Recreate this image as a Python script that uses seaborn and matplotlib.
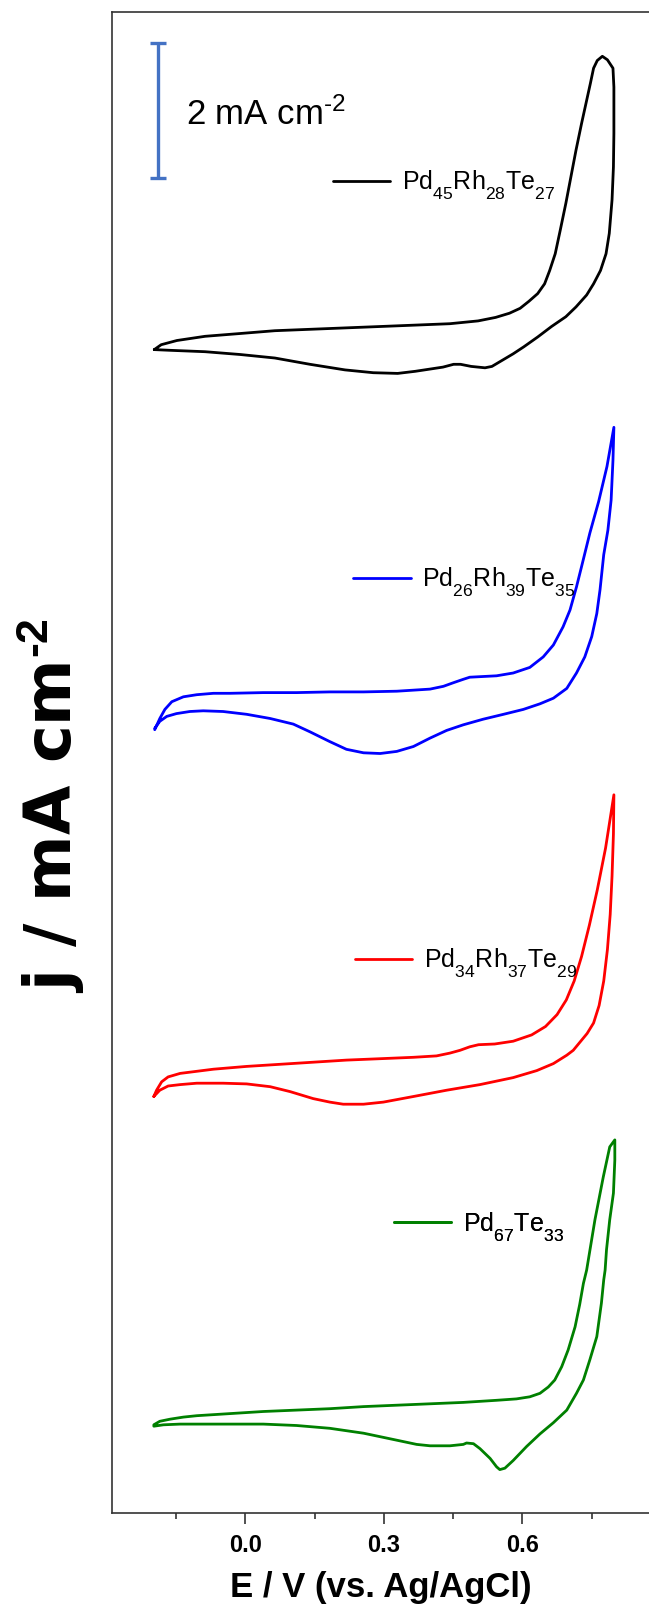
import numpy as np
import pandas as pd
import matplotlib
matplotlib.use("Agg")
import matplotlib.pyplot as plt
import seaborn as sns
from matplotlib.ticker import MultipleLocator

# =========================
# 1. Data (E in V, j in mA cm-2, curves stacked)
# =========================
labels = ["Pd$_{45}$Rh$_{28}$Te$_{27}$", "Pd$_{26}$Rh$_{39}$Te$_{35}$",
          "Pd$_{34}$Rh$_{37}$Te$_{29}$", "Pd$_{67}$Te$_{33}$"]
colors = ["black", "#0000ff", "#ff0000", "#008000"]

# Pd45Rh28Te27 (black)
E_black = [-0.197, -0.182, -0.148, -0.087, -0.011, 0.064, 0.140, 0.216, 0.292, 0.368,
           0.443, 0.504, 0.542, 0.572, 0.595, 0.614, 0.633, 0.648, 0.659, 0.671,
           0.682, 0.694, 0.705, 0.716, 0.728, 0.739, 0.747, 0.754, 0.762, 0.773,
           0.784, 0.796, 0.798,
           0.798, 0.797, 0.794, 0.788, 0.781, 0.769, 0.754, 0.739, 0.716, 0.694,
           0.663, 0.633, 0.603, 0.580, 0.557, 0.534, 0.519, 0.489, 0.466, 0.451,
           0.428, 0.398, 0.368, 0.330, 0.277, 0.216, 0.140, 0.064, -0.011, -0.087,
           -0.163, -0.197]
j_black = [16.62, 16.69, 16.75, 16.81, 16.85, 16.89, 16.91, 16.93, 16.95, 16.97,
           16.99, 17.03, 17.08, 17.14, 17.21, 17.31, 17.42, 17.56, 17.75, 17.99,
           18.33, 18.71, 19.09, 19.47, 19.85, 20.18, 20.42, 20.64, 20.75, 20.81,
           20.76, 20.64, 20.37,
           19.71, 19.23, 18.76, 18.28, 17.99, 17.75, 17.56, 17.40, 17.23, 17.09,
           16.95, 16.80, 16.66, 16.56, 16.47, 16.38, 16.36, 16.38, 16.41, 16.41,
           16.37, 16.34, 16.31, 16.28, 16.29, 16.33, 16.41, 16.50, 16.55, 16.59,
           16.61, 16.62]

# Pd26Rh39Te35 (blue)
E_blue = [-0.196, -0.185, -0.174, -0.159, -0.134, -0.105, -0.069, -0.033, 0.039, 0.111,
          0.183, 0.256, 0.328, 0.400, 0.429, 0.450, 0.472, 0.486, 0.515, 0.544,
          0.580, 0.616, 0.645, 0.667, 0.688, 0.703, 0.717, 0.728, 0.746, 0.765,
          0.783, 0.798,
          0.796, 0.792, 0.785, 0.776, 0.768, 0.761, 0.750, 0.735, 0.717, 0.696,
          0.667, 0.638, 0.602, 0.559, 0.515, 0.472, 0.436, 0.400, 0.364, 0.328,
          0.292, 0.256, 0.219, 0.183, 0.140, 0.104, 0.054, 0.003, -0.048, -0.091,
          -0.120, -0.149, -0.170, -0.185, -0.196]
j_blue = [11.19, 11.35, 11.48, 11.59, 11.66, 11.69, 11.71, 11.71, 11.72, 11.72,
          11.73, 11.73, 11.74, 11.77, 11.81, 11.86, 11.91, 11.94, 11.95, 11.96,
          12.00, 12.08, 12.23, 12.40, 12.66, 12.90, 13.23, 13.52, 14.00, 14.45,
          14.95, 15.51,
          15.04, 14.47, 14.04, 13.69, 13.19, 12.85, 12.52, 12.23, 12.00, 11.78,
          11.64, 11.56, 11.48, 11.41, 11.34, 11.26, 11.18, 11.07, 10.95, 10.88,
          10.85, 10.86, 10.91, 11.02, 11.16, 11.27, 11.35, 11.41, 11.45, 11.46,
          11.45, 11.42, 11.38, 11.31, 11.21]

# Pd34Rh37Te29 (red)
E_red = [-0.198, -0.192, -0.181, -0.167, -0.141, -0.105, -0.069, 0.003, 0.075, 0.147,
         0.219, 0.292, 0.364, 0.414, 0.443, 0.465, 0.486, 0.505, 0.540, 0.580,
         0.620, 0.650, 0.675, 0.695, 0.712, 0.728, 0.745, 0.762, 0.780, 0.798,
         0.797, 0.794, 0.790, 0.784, 0.776, 0.766, 0.754, 0.740, 0.725, 0.710,
         0.696, 0.667, 0.631, 0.580, 0.508, 0.436, 0.364, 0.299, 0.256, 0.212,
         0.183, 0.147, 0.097, 0.054, 0.003, -0.048, -0.105, -0.141, -0.167, -0.185,
         -0.198]
j_red = [5.95, 6.04, 6.16, 6.23, 6.28, 6.31, 6.34, 6.38, 6.41, 6.44,
         6.47, 6.49, 6.51, 6.53, 6.57, 6.61, 6.66, 6.69, 6.70, 6.74,
         6.83, 6.95, 7.12, 7.33, 7.60, 7.95, 8.40, 8.90, 9.50, 10.26,
         9.70, 9.10, 8.55, 8.05, 7.60, 7.25, 7.00, 6.85, 6.73, 6.61,
         6.54, 6.42, 6.32, 6.22, 6.12, 6.04, 5.95, 5.87, 5.84, 5.84,
         5.87, 5.92, 6.02, 6.09, 6.13, 6.14, 6.14, 6.12, 6.10, 6.04,
         5.95]

# Pd67Te33 (green)
E_green = [-0.198, -0.185, -0.163, -0.134, -0.105, -0.033, 0.039, 0.111, 0.183, 0.256,
           0.328, 0.400, 0.472, 0.544, 0.587, 0.616, 0.638, 0.656, 0.670, 0.685,
           0.699, 0.714, 0.724, 0.732, 0.739, 0.757, 0.775, 0.789, 0.800,
           0.800, 0.797, 0.789, 0.782, 0.779, 0.776, 0.771, 0.761, 0.746, 0.732,
           0.717, 0.696, 0.667, 0.638, 0.609, 0.580, 0.562, 0.551, 0.544, 0.530,
           0.508, 0.494, 0.479, 0.472, 0.443, 0.400, 0.371, 0.328, 0.256, 0.183,
           0.111, 0.039, -0.069, -0.141, -0.177, -0.198]
j_green = [1.26, 1.31, 1.34, 1.37, 1.39, 1.42, 1.45, 1.47, 1.49, 1.52,
           1.54, 1.56, 1.58, 1.61, 1.63, 1.66, 1.71, 1.80, 1.90, 2.09,
           2.33, 2.66, 2.98, 3.28, 3.47, 4.19, 4.80, 5.23, 5.33,
           5.04, 4.57, 4.19, 3.76, 3.47, 3.33, 3.00, 2.52, 2.19, 1.90,
           1.71, 1.47, 1.29, 1.13, 0.95, 0.75, 0.64, 0.62, 0.66, 0.78,
           0.92, 0.99, 1.00, 0.98, 0.96, 0.96, 0.98, 1.04, 1.14, 1.21,
           1.25, 1.27, 1.27, 1.27, 1.26, 1.24]

curves = [(E_black, j_black), (E_blue, j_blue), (E_red, j_red), (E_green, j_green)]

# =========================
# 2. Style
# =========================
sns.set_style("white")
plt.rcParams["font.family"] = ["Liberation Sans", "DejaVu Sans"]
plt.rcParams["mathtext.fontset"] = "custom"
plt.rcParams["mathtext.rm"] = "Liberation Sans"
plt.rcParams["mathtext.it"] = "Liberation Sans:italic"
plt.rcParams["mathtext.bf"] = "Liberation Sans:bold"
plt.rcParams["text.color"] = "black"
plt.rcParams["axes.labelcolor"] = "black"
plt.rcParams["xtick.color"] = "black"

# subscripts sit lower in the original (Origin-style)
try:
    import matplotlib._mathtext as _mt
    _mt.FontConstantsBase.subdrop = 0.75
    _mt.FontConstantsBase.sub1 = 0.75
except Exception:
    pass

fig = plt.figure(figsize=(6.49, 16.04), dpi=100)
ax = fig.add_axes([112 / 649, 1 - 1513 / 1604, 1 - 112 / 649, 1501 / 1604])

# =========================
# 3. Curves
# =========================
lines = []
for (E, j), c in zip(curves, colors):
    df = pd.DataFrame({"E": E, "j": j})
    sns.lineplot(data=df, x="E", y="j", sort=False, estimator=None,
                 color=c, lw=2.0, ax=ax)
    ln = ax.lines[-1]
    ln.set_solid_joinstyle("round")
    ln.set_solid_capstyle("round")
    lines.append(ln)

# legend entries placed next to each curve
leg_pos = [(0.4112, 0.8846), (0.4488, 0.6199), (0.4525, 0.3661), (0.5251, 0.1907)]
for ln, lab, pos in zip(lines, labels, leg_pos):
    leg = ax.legend([ln], [lab], loc="center left", bbox_to_anchor=pos,
                    frameon=False, fontsize=18, handlelength=2.3,
                    handletextpad=0.45, borderpad=0, borderaxespad=0)
    ax.add_artist(leg)

# scale bar 2 mA cm-2
ax.errorbar([-0.189], [20.04], yerr=[0.965], color="#4472c4", lw=2.4,
            capsize=5.6, capthick=2.4, fmt="none")
ax.text(-0.129, 19.83, "2 mA cm$^{\u20102}$", fontsize=25, va="baseline", ha="left")

# =========================
# 4. Axes
# =========================
ax.set_xlim(-0.2885, 0.874)
ax.set_ylim(0, 21.443)
ax.xaxis.set_major_locator(MultipleLocator(0.3))
ax.xaxis.set_minor_locator(MultipleLocator(0.15))
ax.xaxis.set_major_formatter(plt.FuncFormatter(lambda v, p: f"{v:.1f}"))
ax.set_yticks([])
ax.tick_params(axis="x", which="major", direction="out", length=8, width=1.2,
               pad=7, labelsize=17, bottom=True, color="#333333")
ax.tick_params(axis="x", which="minor", direction="out", length=4.5, width=1.2,
               bottom=True, color="#333333")
for t in ax.get_xticklabels():
    t.set_fontweight("bold")
for s in ["left", "bottom", "top"]:
    ax.spines[s].set_color("#333333")
    ax.spines[s].set_linewidth(1.2)
ax.spines["right"].set_visible(False)

ax.set_xlabel("E / V (vs. Ag/AgCl)", fontsize=25, fontweight="bold", labelpad=10)
ax.set_ylabel("j / mA cm$^{\\mathbf{\u20102}}$", fontsize=46, fontweight="bold",
              family="DejaVu Sans", va="center")
ax.yaxis.set_label_coords(-0.1136, (1513 - 806) / 1501)

fig.savefig("out.png", dpi=100)
